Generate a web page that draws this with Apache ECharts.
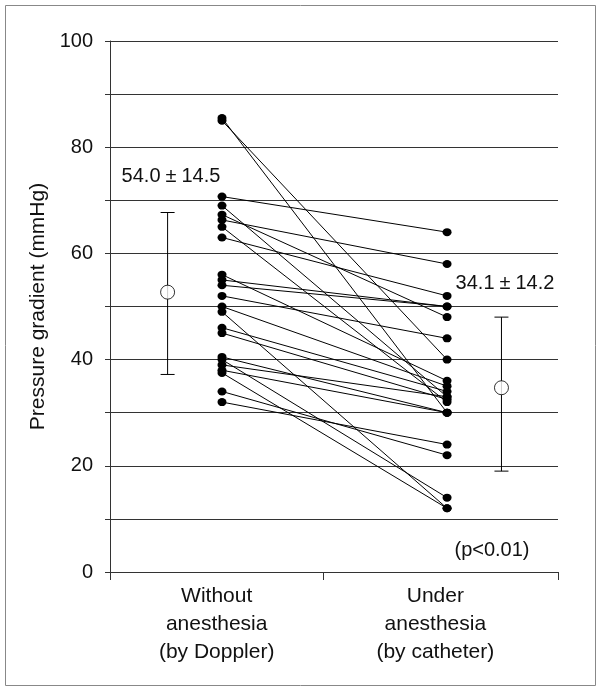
<!DOCTYPE html>
<html>
<head>
<meta charset="utf-8">
<script src="https://cdn.jsdelivr.net/npm/echarts@6/dist/echarts.min.js"></script>
<style>
html,body{margin:0;padding:0;background:#fff;}
#chart{width:600px;height:691px;}
</style>
</head>
<body>
<div id="chart"></div>
<script>
// ---- data ----
const categories = ['Without\nanesthesia\n(by Doppler)', 'Under\nanesthesia\n(by catheter)'];
const withoutAnesthesia = [85.5, 85, 70.7, 69, 67.3, 66.3, 65, 63, 56, 55, 54, 52, 50, 49, 46, 45, 40.5, 40, 39, 38, 37.5, 34, 32];
const underAnesthesia   = [30, 40, 64, 33, 48, 58, 32, 52, 36, 50, 50, 44, 35, 12, 34, 32.5, 30, 14, 33, 30, 12, 22, 24];
const meanValues = [52.7, 34.7];
const sdLow = [37.2, 19.0];
const sdHigh = [67.7, 48.0];
const meanText = [['54.0', '14.5'], ['34.1', '14.2']];
const pLabel = '(p<0.01)';
const yTickLabels = [0, 20, 40, 60, 80, 100];

// ---- layout constants (x positions on the value axis) ----
const X_LEFT = 1.05, X_RIGHT = 3.16, X_MEAN_L = 0.54, X_MEAN_R = 3.67;
const X_MAX = 4.2;
const FONT = "'Liberation Sans', Arial, sans-serif";

const chart = echarts.init(document.getElementById('chart'));

const pairSeries = withoutAnesthesia.map((a, i) => ({
  type: 'line',
  data: [[X_LEFT, a], [X_RIGHT, underAnesthesia[i]]],
  symbol: 'circle',
  symbolSize: [9, 8],
  itemStyle: { color: '#000' },
  lineStyle: { color: '#000', width: 1 },
  silent: true,
  z: 3
}));

const meanX = [X_MEAN_L, X_MEAN_R];

const errorSeries = {
  type: 'custom',
  data: meanX.map((x, i) => [x, sdLow[i], sdHigh[i]]),
  renderItem: function (params, api) {
    const lo = api.coord([api.value(0), api.value(1)]);
    const hi = api.coord([api.value(0), api.value(2)]);
    const cw = 7;
    const st = { stroke: '#000', lineWidth: 1 };
    return {
      type: 'group',
      children: [
        { type: 'line', shape: { x1: lo[0], y1: lo[1], x2: hi[0], y2: hi[1] }, style: st },
        { type: 'line', shape: { x1: lo[0] - cw, y1: lo[1], x2: lo[0] + cw, y2: lo[1] }, style: st },
        { type: 'line', shape: { x1: hi[0] - cw, y1: hi[1], x2: hi[0] + cw, y2: hi[1] }, style: st }
      ]
    };
  },
  silent: true,
  z: 4
};

const meanSeries = {
  type: 'scatter',
  data: meanX.map((x, i) => [x, meanValues[i]]),
  symbol: 'circle',
  symbolSize: 14,
  itemStyle: { color: '#fff', borderColor: '#000', borderWidth: 1 },
  silent: true,
  z: 5
};

function meanRich(pair, x, y) {
  return {
    type: 'text', x: x, y: y,
    style: {
      text: '{n|' + pair[0] + '}{pm|\u00b1}{n|' + pair[1] + '}',
      textAlign: 'center', textVerticalAlign: 'middle',
      rich: {
        n: { fontFamily: FONT, fontSize: 20, fill: '#111', color: '#111' },
        pm: { fontFamily: FONT, fontSize: 20, fill: '#111', color: '#111', padding: [0, 5] }
      }
    }
  };
}

chart.setOption({
  animation: false,
  backgroundColor: '#fff',
  grid: { left: 110, right: 42, top: 41, bottom: 119, containLabel: false },
  xAxis: {
    type: 'value',
    min: 0,
    max: X_MAX,
    axisLine: { show: true, lineStyle: { color: '#333', width: 1 } },
    axisTick: { show: true, customValues: [0, 2, X_MAX], length: 8, lineStyle: { color: '#333' } },
    splitLine: { show: false },
    axisLabel: {
      customValues: [1.0, 3.05],
      formatter: v => (v < 2 ? categories[0] : categories[1]),
      fontFamily: FONT,
      fontSize: 21,
      lineHeight: 28,
      color: '#111',
      margin: 10
    }
  },
  yAxis: {
    type: 'value',
    min: 0,
    max: 100,
    interval: 10,
    name: 'Pressure gradient (mmHg)',
    nameLocation: 'middle',
    nameGap: 57,
    nameTextStyle: { fontFamily: FONT, fontSize: 21, color: '#111' },
    axisLine: { show: true, lineStyle: { color: '#333', width: 1 } },
    axisTick: { show: true, length: 5, lineStyle: { color: '#333' } },
    splitLine: { show: true, lineStyle: { color: '#333', width: 1 } },
    axisLabel: {
      formatter: v => (yTickLabels.indexOf(v) >= 0 ? String(v) : ''),
      fontFamily: FONT,
      fontSize: 20,
      color: '#111',
      margin: 17
    }
  },
  graphic: [
    { type: 'rect', shape: { x: 5.5, y: 5.5, width: 590, height: 680 }, style: { fill: 'none', stroke: '#888', lineWidth: 1 }, z: -1 },
    meanRich(meanText[0], 171, 176),
    meanRich(meanText[1], 505, 283),
    { type: 'text', x: 492, y: 550, style: { text: pLabel, font: '20px ' + FONT, fill: '#111', textAlign: 'center', textVerticalAlign: 'middle' } }
  ],
  series: pairSeries.concat([errorSeries, meanSeries])
});
</script>
</body>
</html>
